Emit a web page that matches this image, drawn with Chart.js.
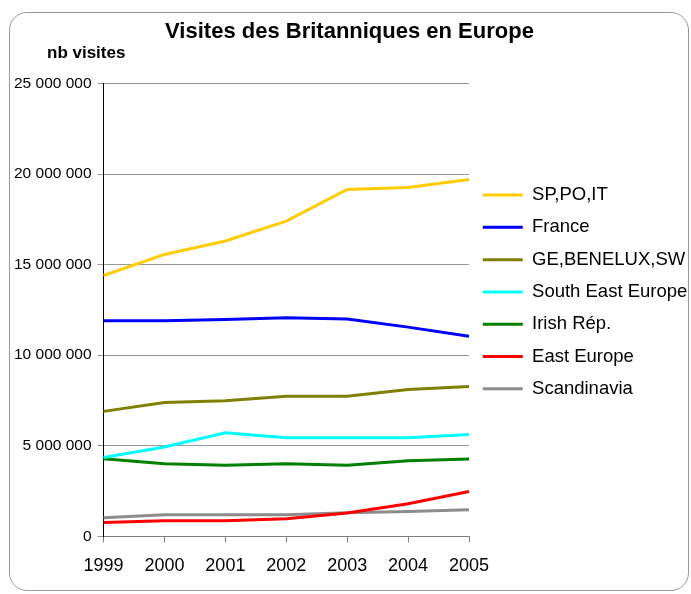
<!DOCTYPE html>
<html>
<head>
<meta charset="utf-8">
<script src="https://cdn.jsdelivr.net/npm/chart.js@4"></script>
<style>
  body { margin: 0; background: #fff; }
  #frame {
    position: absolute; left: 9px; top: 12px; width: 678px; height: 577px;
    border: 1px solid #9a9a9a; border-radius: 18px;
  }
  #wrap { position: absolute; left: 0; top: 0; width: 691px; height: 594px; }
</style>
</head>
<body>
<div id="frame"></div>
<div id="wrap"><canvas id="visitsChart" width="691" height="594"></canvas></div>
<script>
// Years on the x axis
const years = ["1999", "2000", "2001", "2002", "2003", "2004", "2005"];

// Visits per destination (nb visites)
const spPoIt = [14400000, 15560000, 16300000, 17400000, 19150000, 19250000, 19700000];
const france = [11900000, 11900000, 11970000, 12070000, 12000000, 11550000, 11050000];
const geBeneluxSw = [6900000, 7390000, 7490000, 7740000, 7740000, 8110000, 8270000];
const southEastEurope = [4360000, 4930000, 5720000, 5450000, 5450000, 5450000, 5630000];
const irishRep = [4290000, 4010000, 3920000, 4010000, 3920000, 4180000, 4270000];
const eastEurope = [770000, 870000, 870000, 980000, 1290000, 1800000, 2480000];
const scandinavia = [1030000, 1200000, 1200000, 1200000, 1310000, 1380000, 1470000];

// y axis ticks
const yTicks = [0, 5000000, 10000000, 15000000, 20000000, 25000000];

const FONT = "'Liberation Sans', Arial, sans-serif";

// 25000000 -> "25 000 000"
function formatSpaces(v) {
  return String(v).replace(/\B(?=(\d{3})+(?!\d))/g, " ");
}

function line(label, data, color) {
  return {
    label: label,
    data: data,
    borderColor: color,
    backgroundColor: color,
    borderWidth: 3,
    pointRadius: 0,
    pointHoverRadius: 0,
    tension: 0,
    fill: false,
  };
}

// Draw the "nb visites" unit label above the y axis
const unitLabel = {
  id: "unitLabel",
  afterDraw(chart) {
    const ctx = chart.ctx;
    ctx.save();
    ctx.font = "bold 17px " + FONT;
    ctx.fillStyle = "#000";
    ctx.textAlign = "left";
    ctx.textBaseline = "middle";
    ctx.fillText("nb visites", 47, 53);
    ctx.restore();
  },
};

const ctx = document.getElementById("visitsChart").getContext("2d");
new Chart(ctx, {
  type: "line",
  data: {
    labels: years,
    datasets: [
      line("SP,PO,IT", spPoIt, "#ffcc00"),
      line("France", france, "#0000ff"),
      line("GE,BENELUX,SW", geBeneluxSw, "#808000"),
      line("South East Europe", southEastEurope, "#00ffff"),
      line("Irish Rép.", irishRep, "#008000"),
      line("East Europe", eastEurope, "#ff0000"),
      line("Scandinavia", scandinavia, "#8c8c8c"),
    ],
  },
  options: {
    responsive: false,
    animation: false,
    layout: { padding: { left: 8, right: 0, top: 0, bottom: 4 } },
    plugins: {
      tooltip: { enabled: false },
      title: {
        display: true,
        text: "Visites des Britanniques en Europe",
        color: "#000",
        font: { family: FONT, size: 22, weight: "bold" },
        padding: { top: 19, bottom: 38 },
      },
      legend: {
        position: "right",
        align: "start",
        maxWidth: 222,
        // empty title only used as a spacer above the items
        title: {
          display: true,
          text: "",
          font: { family: FONT, size: 10 },
          padding: { top: 160, bottom: 0 },
        },
        labels: {
          color: "#000",
          font: { family: FONT, size: 18.5 },
          usePointStyle: true,
          pointStyle: "line",
          pointStyleWidth: 40,
          padding: 13.8,
        },
      },
    },
    scales: {
      x: {
        offset: false,
        grid: {
          drawOnChartArea: false,
          drawTicks: true,
          tickLength: 6,
          color: "#808080",
        },
        border: { color: "#808080" },
        ticks: {
          color: "#000",
          font: { family: FONT, size: 18 },
          padding: 13,
          maxRotation: 0,
        },
      },
      y: {
        min: 0,
        max: 25000000,
        afterBuildTicks(axis) {
          axis.ticks = yTicks.map((v) => ({ value: v }));
        },
        grid: { color: "#999999", tickLength: 6 },
        border: { color: "#000" },
        ticks: {
          color: "#000",
          font: { family: FONT, size: 15.5 },
          padding: 6,
          callback: (v) => formatSpaces(v),
        },
      },
    },
  },
  plugins: [unitLabel],
});
</script>
</body>
</html>
